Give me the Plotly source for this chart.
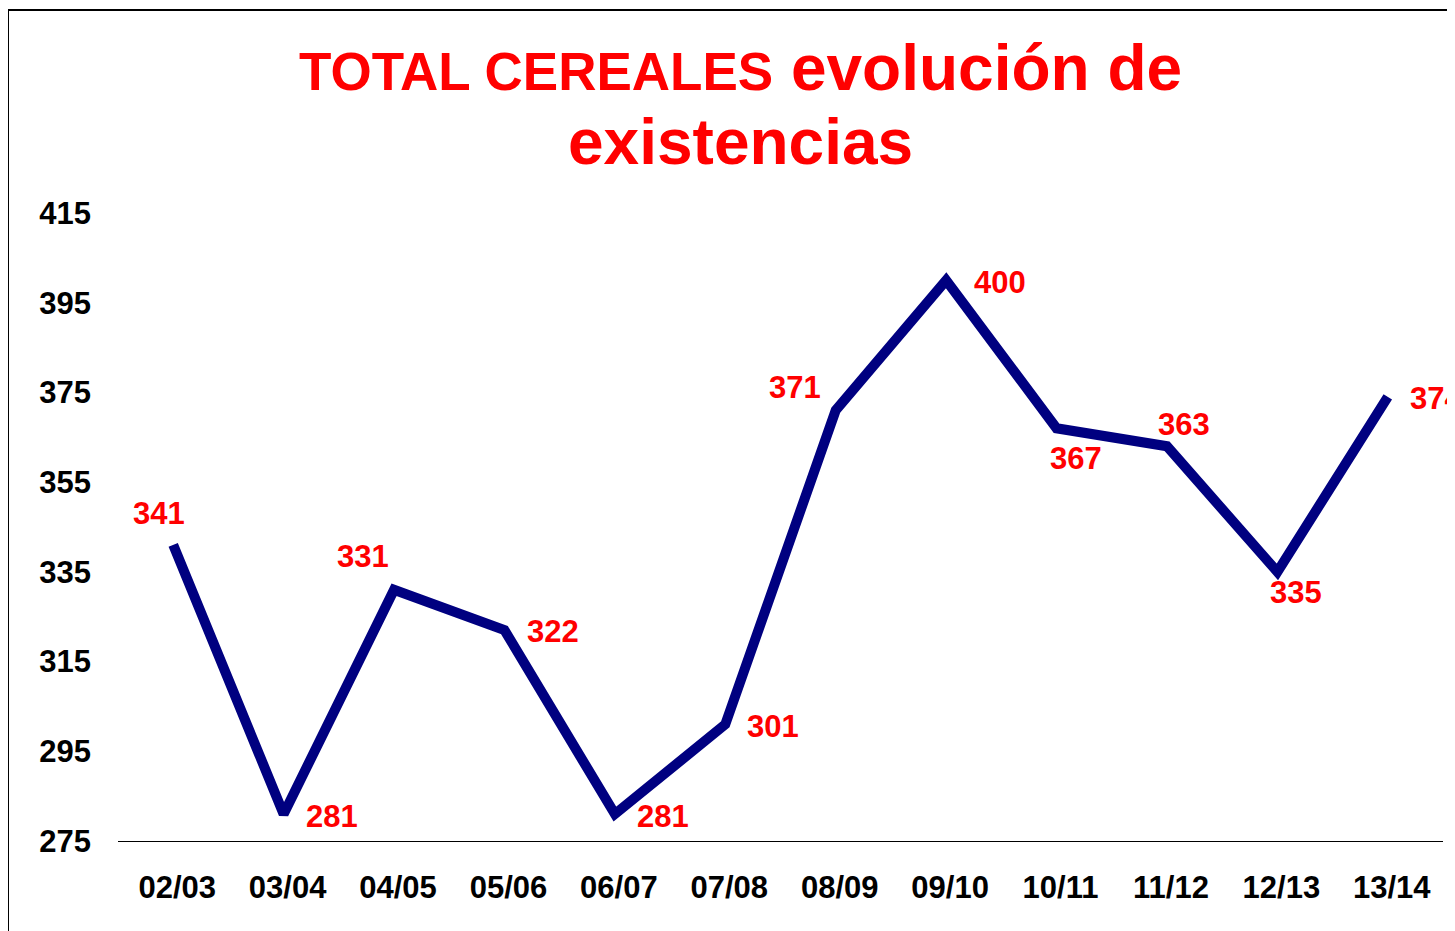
import plotly.graph_objects as go

campaigns = ["02/03", "03/04", "04/05", "05/06", "06/07", "07/08",
             "08/09", "09/10", "10/11", "11/12", "12/13", "13/14"]
stocks = [341, 281, 331, 322, 281, 301, 371, 400, 367, 363, 335, 374]
y_ticks = [275, 295, 315, 335, 355, 375, 395, 415]
title_upper = "TOTAL CEREALES"
title_lower = ["evolución de", "existencias"]

# label offsets (px) relative to each point
label_dx = [-14, 48, -31, 49, 48, 48, -41, 54, 19, 17, 19, 48]
label_dy = [31, -2, 33, -1, -2, -2, 23, -2, -30, 22, -21, -2]

FONT = "Liberation Sans, Arial, sans-serif"

# plot area in figure pixels
L, T, PW, PH = 110, 205, 1325, 628
W, H = 1455, 931

fig = go.Figure()
fig.add_trace(go.Scatter(
    x=campaigns, y=stocks, mode="lines",
    line=dict(color="#000080", width=10),
    hoverinfo="skip", showlegend=False,
))

annotations = []
for c, v, dx, dy in zip(campaigns, stocks, label_dx, label_dy):
    annotations.append(dict(
        x=c, y=v, xref="x", yref="y", text=str(v), showarrow=False,
        xshift=dx, yshift=dy, xanchor="center", yanchor="middle",
        font=dict(family=FONT, size=31, color="#FF0000", weight="bold"),
    ))

title_texts = [
    f"<span style='font-size:53px'>{title_upper}</span> {title_lower[0]}",
    title_lower[1],
]
for line, cy in zip(title_texts, [60, 134]):
    annotations.append(dict(
        x=(732 - L) / PW, y=(T + PH - cy) / PH, xref="paper", yref="paper",
        xanchor="center", yanchor="middle", showarrow=False,
        text=line,
        font=dict(family=FONT, size=64, color="#FF0000", weight="bold"),
    ))

fig.update_layout(
    width=W, height=H,
    margin=dict(l=L, r=W - L - PW, t=T, b=H - T - PH, pad=0),
    paper_bgcolor="white", plot_bgcolor="white",
    xaxis=dict(
        type="category", range=[-0.5, 11.5],
        showline=True, linecolor="black", linewidth=1,
        showgrid=False, zeroline=False, ticks="",
        tickfont=dict(family=FONT, size=31, color="black", weight="bold"),
        ticklabelstandoff=19, ticklabelshift=4,
    ),
    yaxis=dict(
        range=[275, 415], tickvals=y_ticks, ticktext=[str(t) for t in y_ticks],
        showline=False, showgrid=False, zeroline=False, ticks="",
        tickfont=dict(family=FONT, size=31, color="black", weight="bold"),
        ticklabelstandoff=26,
    ),
    annotations=annotations,
    shapes=[dict(
        type="rect", xref="paper", yref="paper",
        x0=(0 - L) / PW, x1=1.05,
        y0=-0.3, y1=(T + PH - 2) / PH,
        line=dict(color="black", width=2), fillcolor="rgba(0,0,0,0)",
        layer="below",
    )],
)

fig.write_html("out.html")
